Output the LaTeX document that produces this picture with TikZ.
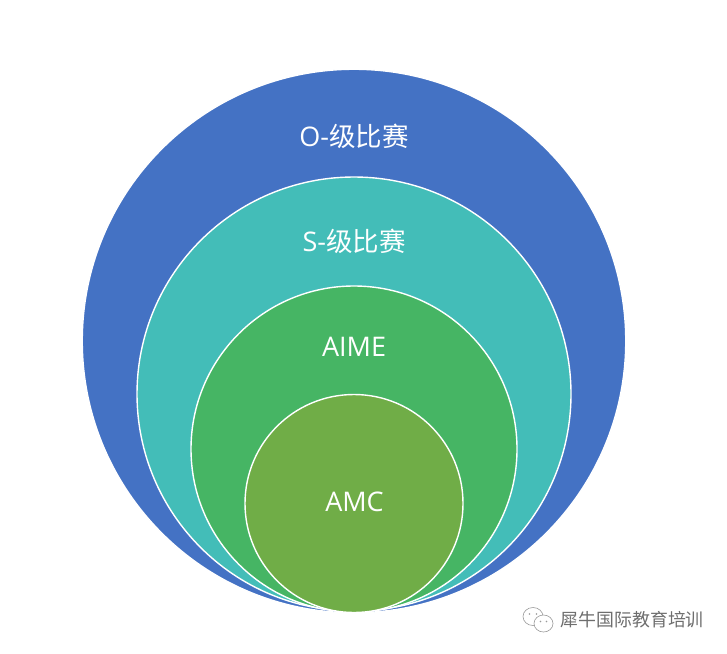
\documentclass[tikz,border=0pt]{standalone}
\usepackage{fontspec}
\setmainfont{Open Sans}
\newfontfamily\cjk{Noto Sans CJK SC}
\definecolor{ringO}{HTML}{4472C4}
\definecolor{ringS}{HTML}{43BDB8}
\definecolor{ringA}{HTML}{46B564}
\definecolor{ringC}{HTML}{70AD47}
\definecolor{wm}{HTML}{6E6E6E}
\tikzset{
  ring/.style={circle,draw=white,line width=1.4pt,inner sep=0pt,outer sep=0pt},
  lab/.style={text=white,font=\fontsize{27}{31}\selectfont,inner sep=0pt},
  wicon/.style={draw=wm!70,line width=0.6pt,fill=white}
}
\begin{document}
\begin{tikzpicture}[x=1pt,y=-1pt]
\useasboundingbox (0,0) rectangle (727,653);
\fill[white] (0,0) rectangle (727,653);
\node[ring,fill=ringO,minimum size=543.5pt] (o) at (354,341) {};
\node[ring,fill=ringS,minimum size=434pt] (s) at (354,394) {};
\node[ring,fill=ringA,minimum size=326pt] (a) at (354,449) {};
\node[ring,fill=ringC,minimum size=218pt] (c) at (354,503.5) {};
\node[lab] (lo) at (354,136) {O-{\cjk\fontsize{26.5}{31}\selectfont 级比赛}};
\node[lab] (ls) at (354,241.5) {S-{\cjk\fontsize{26.5}{31}\selectfont 级比赛}};
\node[lab] (la) at (354,346.5) {AIME};
\node[lab] (lc) at (354.5,502) {AMC};
\draw[wicon] (533,616.5) ellipse (10pt and 9pt);
\draw[wicon] (543.5,623.5) ellipse (9.5pt and 8.5pt);
\fill[wm!70] (529.5,614) circle (0.9pt) (536.5,614) circle (0.9pt) (540.5,621.5) circle (0.8pt) (546.5,621.5) circle (0.8pt);
\node[text=wm,font=\cjk\fontsize{17.9}{20}\selectfont,inner sep=0pt,anchor=east] (wt) at (704,620) {犀牛国际教育培训};
\end{tikzpicture}
\end{document}
